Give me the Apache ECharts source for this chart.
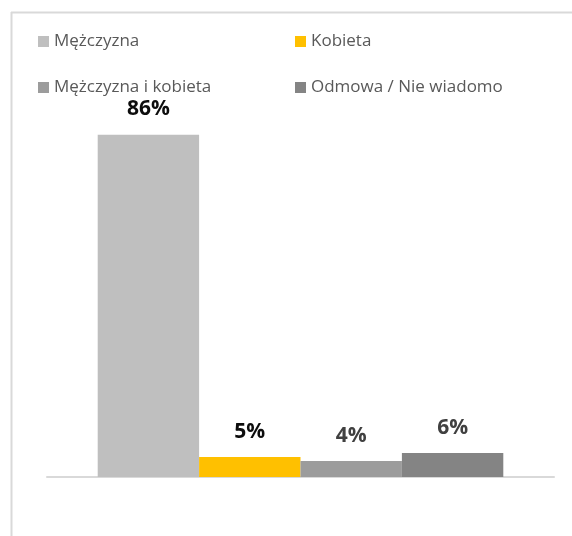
<!DOCTYPE html>
<html>
<head>
<meta charset="utf-8">
<script src="https://cdn.jsdelivr.net/npm/echarts@6/dist/echarts.min.js"></script>
<style>
  html, body { margin: 0; padding: 0; background: #fff; overflow: hidden; }
  #chart { width: 572px; height: 536px; }
</style>
</head>
<body>
<div id="chart"></div>
<script>
// single category, one bar per answer
const categories = [''];
const seriesNames = ['Mężczyzna', 'Kobieta', 'Mężczyzna i kobieta', 'Odmowa / Nie wiadomo'];
const seriesValues = [86, 5, 4, 6];
const seriesColors = ['#bfbfbf', '#ffc000', '#9c9c9c', '#848484'];
const labelColors = ['#0d0d0d', '#0d0d0d', '#404040', '#404040'];

const chart = echarts.init(document.getElementById('chart'), null, { renderer: 'canvas' });

const legendText = { color: '#595959', fontSize: 17, fontFamily: 'Open Sans' };

const option = {
  animation: false,
  // chart frame, only top and left edges are inside the window
  graphic: [
    {
      type: 'line',
      shape: { x1: 11, y1: 12.5, x2: 572, y2: 12.5 },
      style: { stroke: '#d9d9d9', lineWidth: 2 },
      silent: true
    },
    {
      type: 'line',
      shape: { x1: 11.5, y1: 12, x2: 11.5, y2: 536 },
      style: { stroke: '#d9d9d9', lineWidth: 2 },
      silent: true
    }
  ],
  legend: [
    {
      data: [seriesNames[0], seriesNames[2]],
      orient: 'vertical',
      left: 33,
      top: 28,
      itemWidth: 11,
      itemHeight: 11,
      itemGap: 29,
      icon: 'rect',
      textStyle: legendText
    },
    {
      data: [seriesNames[1], seriesNames[3]],
      orient: 'vertical',
      left: 290,
      top: 28,
      itemWidth: 11,
      itemHeight: 11,
      itemGap: 29,
      icon: 'rect',
      textStyle: legendText
    }
  ],
  grid: { left: 47, right: 18, top: 79, bottom: 59 },
  xAxis: {
    type: 'category',
    data: categories,
    axisLine: { lineStyle: { color: '#d9d9d9', width: 2 } },
    axisTick: { show: false },
    axisLabel: { show: false }
  },
  yAxis: {
    type: 'value',
    min: 0,
    max: 100,
    show: false,
    splitLine: { show: false }
  },
  series: seriesNames.map((name, i) => ({
    name: name,
    type: 'bar',
    data: [seriesValues[i]],
    barGap: '0%',
    barCategoryGap: '20%',
    itemStyle: { color: seriesColors[i] },
    label: {
      show: true,
      position: 'top',
      distance: 15,
      formatter: '{c}%',
      color: labelColors[i],
      fontSize: 21,
      fontWeight: 'bold',
      fontFamily: 'Open Sans'
    }
  }))
};

chart.setOption(option);
</script>
</body>
</html>
